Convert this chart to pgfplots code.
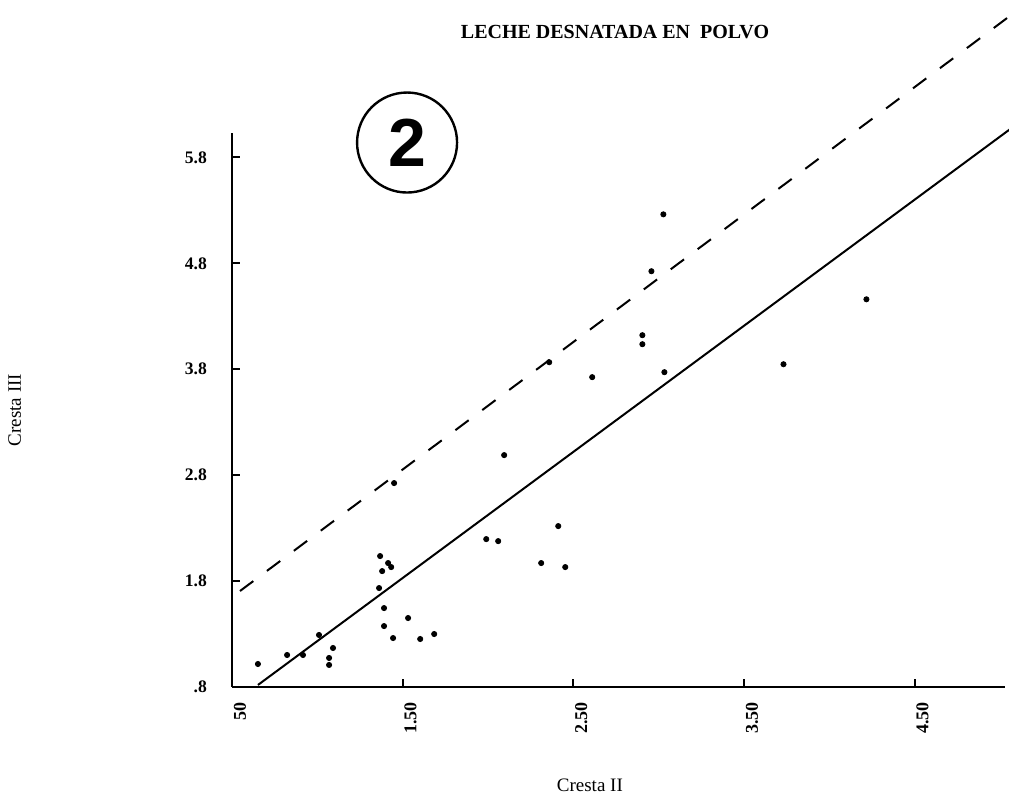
\documentclass[border=0pt]{standalone}
\usepackage{pgfplots}
\pgfplotsset{compat=1.18}
\usepackage{fontspec}
\setmainfont{Liberation Serif}
\newfontfamily\numsans{Liberation Sans}
\begin{document}
\begin{tikzpicture}
\begin{axis}[
  scale only axis,
  width=386.5pt, height=277pt,
  xmin=0.5, xmax=5.03, ymin=0.8, ymax=6.03,
  axis lines*=left,
  axis line style={-, line width=1.3pt},
  clip=false,
  tick align=inside,
  major tick length=4pt,
  tick style={black, line width=1pt},
  xtick={0.5,1.5,2.5,3.5,4.5},
  xticklabels={50,1.50,2.50,3.50,4.50},
  ytick={0.8,1.8,2.8,3.8,4.8,5.8},
  yticklabels={.8,1.8,2.8,3.8,4.8,5.8},
  xticklabel style={rotate=90, anchor=east, font=\bfseries\fontsize{9}{10}\selectfont, xshift=-4pt, yshift=-4pt},
  yticklabel style={anchor=east, font=\bfseries\fontsize{8.8}{10}\selectfont, xshift=-9pt},
  xlabel={Cresta II},
  ylabel={Cresta III},
  xlabel style={at={(axis description cs:0.463,-0.177)}, anchor=center, font=\fontsize{9.5}{11}\selectfont},
  ylabel style={at={(axis description cs:-0.281,0.5)}, anchor=center, font=\fontsize{9.5}{11}\selectfont},
  title={LECHE DESNATADA EN\ \ POLVO},
  title style={at={(axis description cs:0.4955,1.161)}, anchor=center, font=\bfseries\fontsize{10}{11}\selectfont},
]
\addplot[only marks, mark=*, mark size=1.3pt, black] coordinates {
(0.652,1.017) (0.823,1.102) (0.916,1.102) (1.010,1.291) (1.092,1.168)
(1.069,1.074) (1.069,1.008) (1.368,2.036) (1.380,1.894) (1.415,1.970)
(1.433,1.932) (1.362,1.734) (1.391,1.545) (1.391,1.375) (1.444,1.262)
(1.532,1.451) (1.603,1.253) (1.685,1.300) (1.450,2.725) (2.095,2.989)
(1.990,2.196) (2.060,2.177) (2.412,2.319) (2.312,1.970) (2.453,1.932)
(2.359,3.866) (2.611,3.725) (2.905,4.121) (2.905,4.036) (3.028,5.262)
(2.958,4.725) (3.034,3.772) (3.732,3.847) (4.218,4.460)
};
\addplot[black, line width=1pt] coordinates {(0.652,0.819) (5.063,6.07)};
\addplot[black, line width=1pt, dash pattern=on 8.3pt off 8.5pt] coordinates {(0.547,1.706) (5.063,7.14)};
\node[circle, draw, line width=1.2pt, minimum size=50pt, inner sep=0pt,
  font=\numsans\bfseries\fontsize{34}{34}\selectfont] at (axis cs:1.526,5.94) {2};
\end{axis}
\pgfresetboundingbox
\path[use as bounding box] ([shift={(-116pt,-54.5pt)}]current axis.south west) rectangle ([shift={(388.5pt,343.5pt)}]current axis.south west);
\end{tikzpicture}
\end{document}
